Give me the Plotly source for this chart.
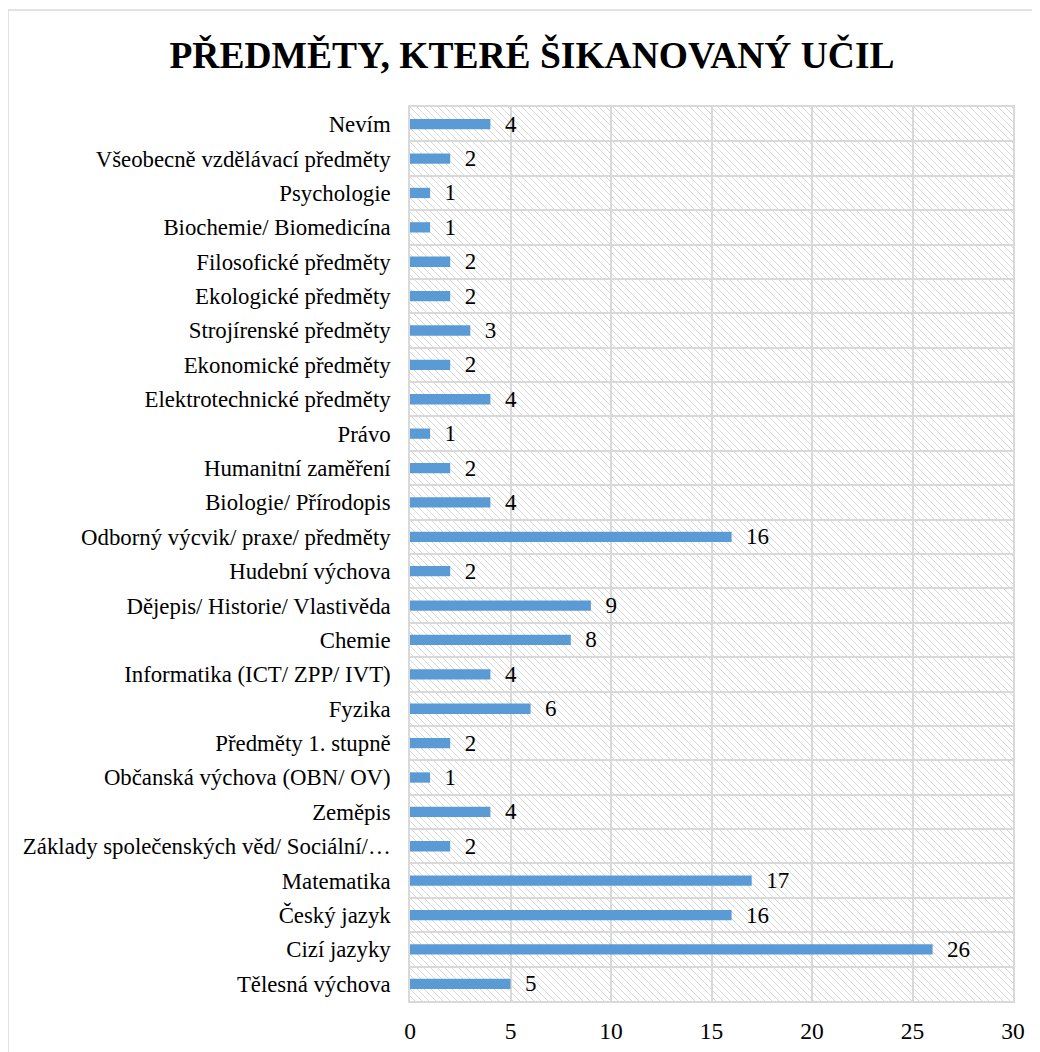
import plotly.graph_objects as go
import urllib.parse

categories = [
    "Tělesná výchova", "Cizí jazyky", "Český jazyk", "Matematika",
    "Základy společenských věd/ Sociální/…", "Zeměpis",
    "Občanská výchova (OBN/ OV)", "Předměty 1. stupně", "Fyzika",
    "Informatika (ICT/ ZPP/ IVT)", "Chemie", "Dějepis/ Historie/ Vlastivěda",
    "Hudební výchova", "Odborný výcvik/ praxe/ předměty", "Biologie/ Přírodopis",
    "Humanitní zaměření", "Právo", "Elektrotechnické předměty",
    "Ekonomické předměty", "Strojírenské předměty", "Ekologické předměty",
    "Filosofické předměty", "Biochemie/ Biomedicína", "Psychologie",
    "Všeobecně vzdělávací předměty", "Nevím",
]
values = [5, 26, 16, 17, 2, 4, 1, 2, 6, 4, 8, 9, 2, 16, 4, 2, 1, 4, 2, 3, 2, 2, 1, 1, 2, 4]
x_ticks = [0, 5, 10, 15, 20, 25, 30]

positions = list(range(len(categories)))

W, H = 1032, 1044
L, R, T, B = 402, 27, 99, 51
pw, ph = W - L - R, H - T - B

sp = 7
svg = (
    f"<svg xmlns='http://www.w3.org/2000/svg' width='{pw}' height='{ph}'>"
    f"<defs><pattern id='p' width='{sp}' height='{sp}' patternUnits='userSpaceOnUse'>"
    f"<path d='M-1,-1 L{sp+1},{sp+1} M-1,{sp-1} L1,{sp+1} M{sp-1},-1 L{sp+1},1' "
    "stroke='#d9d9d9' stroke-width='1'/>"
    "</pattern></defs>"
    f"<rect width='{pw}' height='{ph}' fill='url(#p)'/></svg>"
)
src = "data:image/svg+xml;charset=utf-8," + urllib.parse.quote(svg)

FONT = "Liberation Serif"

fig = go.Figure()
fig.add_trace(go.Bar(
    y=positions, x=values, orientation="h",
    marker=dict(color="#5B9BD5", line=dict(width=0)),
    width=0.3,
    text=["\u00a0\u00a0" + str(v) for v in values],
    textposition="outside",
    constraintext="none",
    textfont=dict(family=FONT, size=23, color="#000000"),
    cliponaxis=False,
))

fig.update_layout(
    width=W, height=H,
    margin=dict(l=L, r=R, t=T, b=B, autoexpand=False),
    paper_bgcolor="white", plot_bgcolor="rgba(0,0,0,0)",
    showlegend=False,
    title=dict(
        text="<b>PŘEDMĚTY, KTERÉ ŠIKANOVANÝ UČIL</b>",
        x=(532 - 8) / W, xref="container", xanchor="center",
        y=1 - 47 / H, yanchor="middle",
        font=dict(family=FONT, size=37.5, color="#000000"),
    ),
    xaxis=dict(
        range=[0, 30], tickvals=x_ticks, showgrid=True, gridcolor="#d9d9d9",
        gridwidth=1.5, zeroline=False, showline=True, linecolor="#d9d9d9",
        linewidth=1.5, mirror=True, ticks="", ticklen=0, ticklabelstandoff=8,
        automargin=False,
        tickfont=dict(family=FONT, size=23.5, color="#000000"),
    ),
    yaxis=dict(
        range=[-0.5, len(categories) - 0.5], tickvals=positions, ticktext=categories,
        showgrid=False, zeroline=False, showline=True, linecolor="#d9d9d9",
        linewidth=1.5, mirror=True, ticks="", ticklen=0, ticklabelstandoff=13,
        automargin=False,
        tickfont=dict(family=FONT, size=22.8, color="#000000"),
        minor=dict(tick0=0.5, dtick=1, showgrid=True, gridcolor="#d9d9d9", gridwidth=1.5),
    ),
    images=[dict(
        source=src, xref="paper", yref="paper", x=0, y=1, sizex=1, sizey=1,
        xanchor="left", yanchor="top", sizing="stretch", layer="below",
    )],
    shapes=[dict(
        type="rect", xref="paper", yref="paper",
        x0=(0 - L) / pw, x1=(W + 20 - L) / pw,
        y0=-(B + 20) / ph, y1=1 + (T - 2) / ph,
        line=dict(color="#d9d9d9", width=1.5), fillcolor="rgba(0,0,0,0)", layer="below",
    )],
)

fig.write_html("out.html")
